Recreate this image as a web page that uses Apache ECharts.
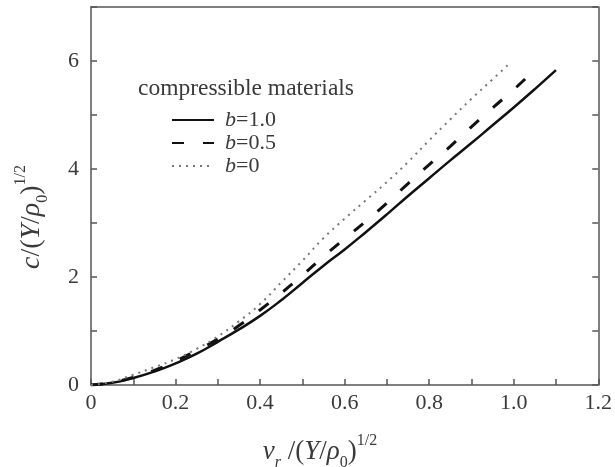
<!DOCTYPE html>
<html>
<head>
<meta charset="utf-8">
<script src="https://cdn.jsdelivr.net/npm/echarts@6/dist/echarts.min.js"></script>
<style>
html,body{margin:0;padding:0;background:#fff;}
#main{width:615px;height:467px;}
</style>
</head>
<body>
<div id="main"></div>
<script>
// b = 1.0 (solid)
var vSolid = [0, 0.05, 0.1, 0.15, 0.2, 0.25, 0.3, 0.35, 0.4, 0.45, 0.5, 0.55, 0.6, 0.65, 0.7, 0.75, 0.8, 0.85, 0.9, 0.95, 1.0, 1.05, 1.1];
var cSolid = [0, 0.04, 0.13, 0.25, 0.4, 0.58, 0.8, 1.03, 1.28, 1.57, 1.89, 2.21, 2.51, 2.83, 3.16, 3.5, 3.83, 4.16, 4.48, 4.81, 5.14, 5.48, 5.83];
// b = 0.5 (dashed)
var vDash = [0, 0.05, 0.1, 0.15, 0.2, 0.25, 0.3, 0.35, 0.4, 0.45, 0.5, 0.55, 0.6, 0.65, 0.7, 0.75, 0.8, 0.85, 0.9, 0.95, 1.0, 1.042];
var cDash = [0, 0.05, 0.14, 0.27, 0.44, 0.64, 0.85, 1.1, 1.39, 1.7, 2.03, 2.38, 2.71, 3.03, 3.37, 3.73, 4.08, 4.42, 4.78, 5.13, 5.47, 5.78];
// b = 0 (dotted)
var vDot = [0, 0.05, 0.1, 0.15, 0.2, 0.25, 0.3, 0.35, 0.4, 0.45, 0.5, 0.55, 0.6, 0.65, 0.7, 0.75, 0.8, 0.85, 0.9, 0.95, 0.988];
var cDot = [0, 0.06, 0.19, 0.33, 0.48, 0.67, 0.9, 1.18, 1.5, 1.9, 2.3, 2.72, 3.08, 3.42, 3.76, 4.13, 4.53, 4.92, 5.3, 5.66, 5.94];

var seriesNames = ['b=1.0', 'b=0.5', 'b=0'];
var legendTitle = 'compressible materials';

function pairs(xs, ys) { return xs.map(function (x, i) { return [x, ys[i]]; }); }

var FONT = 'Liberation Serif';
var TXT = '#3a3a3a';
var AX = '#555';

var chart = echarts.init(document.getElementById('main'), null, {renderer: 'canvas'});

var axisLineStyle = {show: true, onZero: false, lineStyle: {color: AX, width: 1.5}};

function titleRich(size) {
  return {
    i: {fontStyle: 'italic', fontFamily: FONT, fontSize: size, fill: TXT, lineHeight: 38, verticalAlign: 'middle'},
    n: {fontFamily: FONT, fontSize: size, fill: TXT, lineHeight: 38, verticalAlign: 'middle'},
    subi: {fontStyle: 'italic', fontFamily: FONT, fontSize: 16, fill: TXT, lineHeight: 38, verticalAlign: 'bottom'},
    sub: {fontFamily: FONT, fontSize: 16, fill: TXT, lineHeight: 38, verticalAlign: 'bottom'},
    sup: {fontFamily: FONT, fontSize: 16, fill: TXT, lineHeight: 38, verticalAlign: 'top'}
  };
}

chart.setOption({
  backgroundColor: '#fff',
  animation: false,
  grid: {left: 91, right: 16, top: 7, bottom: 82, containLabel: false},
  xAxis: [{
    type: 'value', min: 0, max: 1.2, interval: 0.1,
    axisLine: axisLineStyle,
    axisTick: {show: true, inside: true, length: 6, lineStyle: {color: AX, width: 1.5}},
    splitLine: {show: false},
    axisLabel: {
      margin: 7, color: TXT, fontFamily: FONT, fontSize: 22,
      formatter: function (v) {
        var k = Math.round(v * 10);
        if (k % 2 !== 0) return '';
        return k === 0 ? '0' : (k / 10).toFixed(1);
      }
    }
  }, {
    type: 'value', min: 0, max: 1.2, position: 'top',
    axisLine: axisLineStyle, axisTick: {show: false}, axisLabel: {show: false}, splitLine: {show: false}
  }],
  yAxis: [{
    type: 'value', min: 0, max: 7, interval: 1,
    axisLine: axisLineStyle,
    axisTick: {show: true, inside: true, length: 6, lineStyle: {color: AX, width: 1.5}},
    splitLine: {show: false},
    axisLabel: {
      margin: 12, color: TXT, fontFamily: FONT, fontSize: 22,
      formatter: function (v) {
        var k = Math.round(v);
        return (k % 2 === 0 && k < 7) ? String(k) : '';
      }
    }
  }, {
    type: 'value', min: 0, max: 7, interval: 1, position: 'right',
    axisLine: axisLineStyle,
    axisTick: {show: true, inside: true, length: 6, lineStyle: {color: AX, width: 1.5}},
    axisLabel: {show: false}, splitLine: {show: false}
  }],
  legend: {
    orient: 'vertical', left: 166, top: 104,
    itemWidth: 42, itemHeight: 14, itemGap: 1,
    data: seriesNames,
    itemStyle: {opacity: 0},
    textStyle: {
      color: TXT, fontFamily: FONT, fontSize: 22, padding: [0, 0, 0, 6], lineHeight: 22,
      rich: {
        i: {fontStyle: 'italic', fontFamily: FONT, fontSize: 22, color: TXT, lineHeight: 22},
        n: {fontFamily: FONT, fontSize: 22, color: TXT, lineHeight: 22}
      }
    },
    formatter: function (name) { return '{i|b}{n|' + name.slice(1) + '}'; }
  },
  graphic: [{
    type: 'text', left: 138, top: 77,
    style: {text: legendTitle, font: '23.5px "Liberation Serif"', fill: TXT}
  }, {
    type: 'text', x: 32, y: 217, rotation: Math.PI / 2,
    style: {
      text: '{i|c}{n|/(}{i|Y}{n|/}{i|ρ}{sub|0}{n|)}{sup|1/2}',
      x: 0, y: 0, align: 'center', verticalAlign: 'middle',
      rich: titleRich(28)
    }
  }, {
    type: 'text', x: 320, y: 452,
    style: {
      text: '{i|v}{subi|r}{n| /(}{i|Y}{n|/}{i|ρ}{sub|0}{n|)}{sup|1/2}',
      x: 0, y: 0, align: 'center', verticalAlign: 'middle',
      rich: titleRich(27)
    }
  }],
  series: [{
    name: seriesNames[0], type: 'line', smooth: true, symbol: 'none',
    data: pairs(vSolid, cSolid),
    lineStyle: {color: '#111', width: 2.5, type: 'solid'},
    itemStyle: {color: '#111'}
  }, {
    name: seriesNames[1], type: 'line', smooth: true, symbol: 'none',
    data: pairs(vDash, cDash),
    lineStyle: {color: '#111', width: 3, type: [12, 19]},
    itemStyle: {color: '#111'}
  }, {
    name: seriesNames[2], type: 'line', smooth: true, symbol: 'none',
    data: pairs(vDot, cDot),
    lineStyle: {color: '#777', width: 2, type: [2, 5]},
    itemStyle: {color: '#777'}
  }]
});
</script>
</body>
</html>
